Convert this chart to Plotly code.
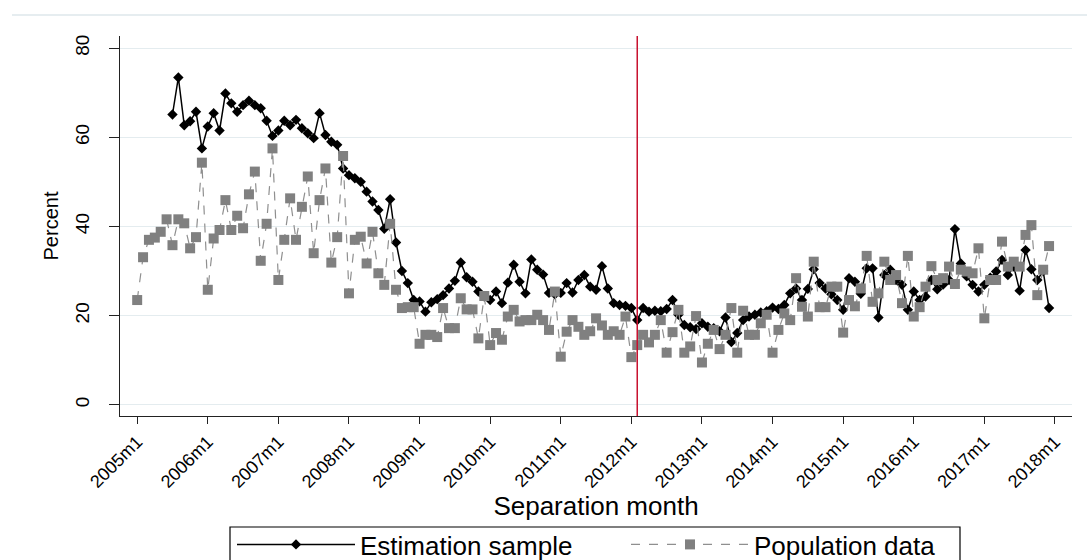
import plotly.graph_objects as go

# Monthly series, 2005m1 .. 2017m12 (month index 0 = 2005m1)
start_year = 2005
n_months = 156
separation_month = list(range(n_months))

# Population data (grey squares, dashed)
population = [
    23.5, 33.1, 37.0, 37.5, 38.8, 41.6, 35.8, 41.6, 40.7, 35.1,
    37.6, 54.3, 25.8, 37.3, 39.2, 45.9, 39.2, 42.4, 39.6, 47.2,
    52.3, 32.3, 40.6, 57.5, 28.0, 37.0, 46.3, 37.0, 44.4, 51.2,
    34.0, 45.9, 53.0, 31.9, 37.6, 55.8, 25.0, 37.0, 37.7, 31.7,
    38.8, 29.5, 26.9, 40.6, 25.8, 21.7, 21.9, 21.9, 13.7, 15.7,
    15.7, 15.2, 21.7, 17.2, 17.2, 23.9, 21.4, 21.4, 14.9, 24.4,
    13.4, 16.1, 14.6, 19.8, 21.3, 18.7, 19.0, 19.0, 20.2, 19.0,
    16.8, 25.4, 10.8, 16.4, 19.0, 17.5, 15.7, 16.5, 19.4, 17.8,
    15.7, 16.5, 15.7, 19.8, 10.7, 13.4, 15.7, 14.0, 15.7, 19.0,
    11.7, 16.3, 21.3, 11.7, 13.1, 19.9, 9.5, 13.7, 16.8, 12.5,
    15.7, 21.7, 11.7, 21.1, 15.7, 15.7, 18.3, 20.2, 11.7, 16.8,
    20.5, 19.0, 28.4, 22.0, 19.8, 32.1, 21.9, 21.9, 26.5, 26.5,
    16.2, 23.5, 22.1, 26.1, 33.4, 23.1, 25.0, 32.1, 28.0, 29.1,
    22.8, 33.4, 19.8, 21.9, 26.5, 31.1, 28.0, 28.4, 31.0, 27.1,
    30.3, 29.9, 29.5, 35.1, 19.4, 28.0, 28.0, 36.6, 31.0, 32.1,
    31.0, 38.1, 40.3, 24.6, 30.3, 35.6,
]

# Estimation sample (black diamonds, solid) - starts 2005m7
estimation = [None] * 6 + [
    65.1, 73.4, 62.7, 63.6,
    65.7, 57.5, 62.4, 65.4, 61.5, 69.8, 67.6, 65.7, 67.2, 68.2,
    67.2, 66.5, 63.7, 60.3, 61.5, 63.7, 62.7, 63.9, 62.0, 60.9,
    59.8, 65.4, 60.5, 59.0, 58.3, 53.0, 51.5, 50.8, 50.0, 47.8,
    45.6, 43.7, 39.5, 46.1, 36.4, 30.0, 27.3, 23.5, 23.2, 20.9,
    23.0, 23.7, 24.6, 26.1, 27.8, 31.9, 28.6, 27.6, 25.4, 24.3,
    23.5, 25.4, 22.8, 27.4, 31.4, 27.6, 25.0, 32.6, 30.3, 29.2,
    25.1, 24.8, 25.1, 27.3, 25.2, 28.0, 29.1, 26.5, 25.8, 31.1,
    26.1, 22.8, 22.4, 22.2, 21.7, 19.0, 21.7, 20.9, 21.1, 21.0,
    21.5, 23.5, 20.2, 17.9, 17.4, 17.0, 18.3, 17.5, 17.2, 16.5,
    19.6, 14.1, 16.1, 19.0, 19.8, 20.2, 20.7, 21.0, 21.8, 21.5,
    22.4, 25.0, 26.1, 23.5, 26.0, 30.4, 27.3, 26.1, 24.8, 23.5,
    21.3, 28.4, 27.6, 24.9, 30.6, 30.6, 19.6, 29.1, 30.3, 28.0,
    26.9, 21.3, 25.4, 23.5, 24.3, 28.0, 25.9, 27.0, 28.0, 39.4,
    31.7, 28.8, 26.9, 25.4, 26.9, 28.5, 29.9, 32.5, 29.1, 31.0,
    25.6, 34.7, 30.4, 28.0, 30.0, 21.7,
]

tick_years = list(range(2005, 2019))
tick_vals = [(y - start_year) * 12 for y in tick_years]
tick_text = [f"{y}m1" for y in tick_years]
reform_month = 85  # 2012m2
y_ticks = [0, 20, 40, 60, 80]

FONT = "Liberation Sans, Arial, sans-serif"
W, H = 1087, 560
ML, MR, MT, MB = 120, 15, 36, 144
PW, PH = W - ML - MR, H - MT - MB


def px_x(px):  # pixel -> paper x
    return (px - ML) / PW


def px_y(py):  # pixel -> paper y
    return (H - MB - py) / PH


fig = go.Figure()
fig.add_trace(go.Scatter(
    x=separation_month, y=estimation, mode="lines+markers",
    name="Estimation sample", legend="legend",
    line=dict(color="black", width=1.5),
    marker=dict(symbol="diamond", size=8, color="black"),
))
fig.add_trace(go.Scatter(
    x=separation_month, y=population, mode="lines+markers",
    name="Population data", legend="legend2",
    line=dict(color="#8f8f8f", width=1.2, dash="dash"),
    marker=dict(symbol="square", size=10, color="#808080"),
))

fig.add_shape(type="line", xref="x", yref="paper",
              x0=reform_month, x1=reform_month, y0=0, y1=1,
              line=dict(color="#c8102e", width=1.5))
# faint graph-region border line at the top
fig.add_shape(type="line", xref="paper", yref="paper",
              x0=px_x(12), x1=px_x(1095), y0=px_y(15), y1=px_y(15),
              line=dict(color="#e6edf0", width=2))
# legend frame
fig.add_shape(type="rect", xref="paper", yref="paper",
              x0=px_x(230), x1=px_x(960), y0=px_y(527), y1=px_y(580),
              line=dict(color="black", width=1.2), fillcolor="rgba(0,0,0,0)")

legend_common = dict(
    orientation="h", xref="container", yref="container",
    xanchor="left", y=1 - 521 / H, yanchor="top",
    borderwidth=0, bgcolor="rgba(0,0,0,0)",
    font=dict(size=26, family=FONT), itemwidth=118,
)

fig.update_layout(
    width=W, height=H,
    margin=dict(l=ML, r=MR, t=MT, b=MB, autoexpand=False),
    paper_bgcolor="white", plot_bgcolor="white",
    font=dict(family=FONT, color="black"),
    showlegend=True,
    legend=dict(x=232 / W, **legend_common),
    legend2=dict(x=626 / W, **legend_common),
    xaxis=dict(
        range=[-2.92, 158.9], automargin=False,
        tickmode="array", tickvals=tick_vals, ticktext=tick_text,
        tickangle=-45, ticks="outside", ticklen=7, tickwidth=1.3, tickcolor="#222",
        tickfont=dict(size=18),
        showline=True, linecolor="#222", linewidth=1.3,
        showgrid=False, zeroline=False,
        title=dict(text="Separation month", font=dict(size=26), standoff=6),
    ),
    yaxis=dict(
        range=[-2.5, 82.7], automargin=False,
        tickmode="array", tickvals=y_ticks,
        tickangle=-90, ticks="outside", ticklen=10, tickwidth=1.3, tickcolor="#222",
        tickfont=dict(size=19), ticklabelstandoff=12,
        showline=True, linecolor="#222", linewidth=1.3,
        showgrid=True, gridcolor="#e4ecef", gridwidth=1.2, zeroline=False,
        title=dict(text="Percent", font=dict(size=20), standoff=8),
    ),
)

fig.write_html("out.html")
